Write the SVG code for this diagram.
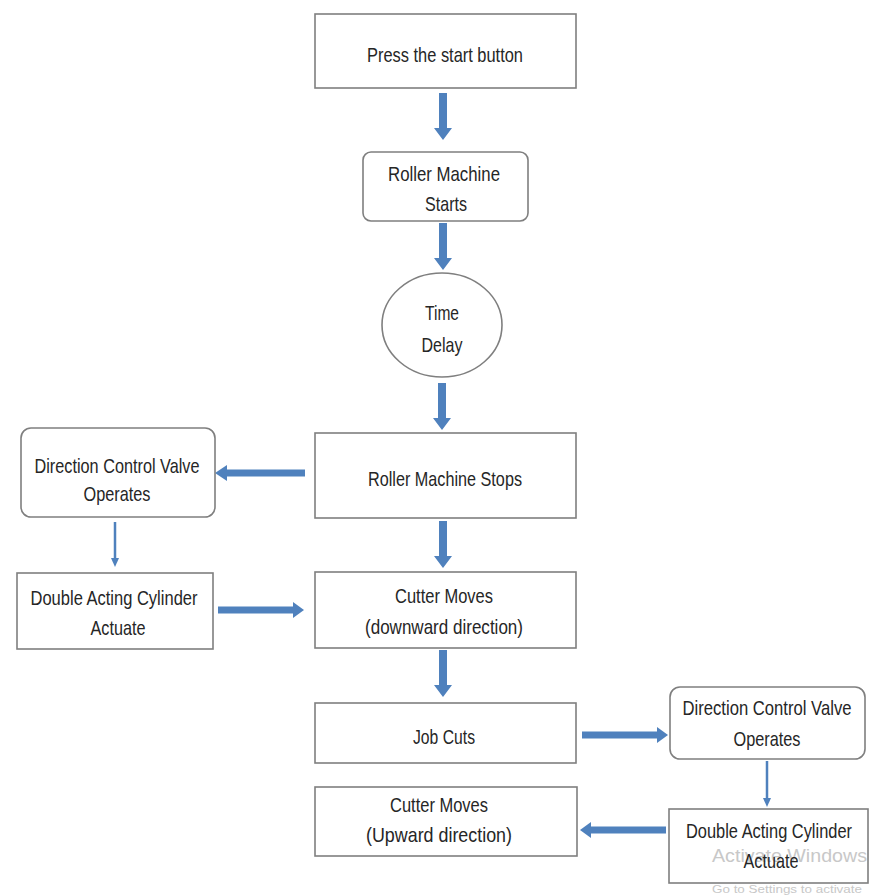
<svg xmlns="http://www.w3.org/2000/svg" width="869" height="896" viewBox="0 0 869 896">
<defs>
<style>
.box{fill:#fff;stroke:#7f7f7f;stroke-width:1.6}
.t{font-family:"Liberation Sans",Arial,sans-serif;font-size:21px;fill:#262626;text-anchor:middle}
.arr{fill:#4f81bd}
.thin{stroke:#4f81bd;stroke-width:2.5;fill:none}
.wm{font-family:"Liberation Sans",Arial,sans-serif;fill:#c8c8c8}
</style>
</defs>
<rect width="869" height="896" fill="#fff"/>
<g id="connectors">
<path class="arr" d="M439,93 H447 V128 H452 L443,140 L434,128 H439 Z"/>
<path class="arr" d="M439,223 H447 V258 H452 L443,270 L434,258 H439 Z"/>
<path class="arr" d="M438,383 H446 V418 H451 L442,430 L433,418 H438 Z"/>
<path class="arr" d="M439,521 H447 V556 H452 L443,568 L434,556 H439 Z"/>
<path class="arr" d="M439,650 H447 V685 H452 L443,697 L434,685 H439 Z"/>
<path class="arr" d="M305,469.5 V476.5 H227 V481 L215,473 L227,465 V469.5 Z"/>
<path class="arr" d="M218,606.5 V613.5 H293 V618 L304,610 L293,602 V606.5 Z"/>
<path class="arr" d="M582,731.5 V738.5 H657 V743 L668,735 L657,727 V731.5 Z"/>
<path class="arr" d="M666,826.5 V833.5 H591 V838 L580,830 L591,822 V826.5 Z"/>
<line class="thin" x1="115" y1="522" x2="115" y2="559"/>
<path class="arr" d="M111,558 H119 L115,567 Z"/>
<line class="thin" x1="767" y1="761" x2="767" y2="799"/>
<path class="arr" d="M763,798 H771 L767,807 Z"/>
</g>
<g id="n1"><rect class="box" x="315" y="14" width="261" height="74"/><text class="t" x="445" y="62" textLength="156" lengthAdjust="spacingAndGlyphs">Press the start button</text></g>
<g id="n2"><rect class="box" x="363" y="152" width="165" height="69" rx="8"/><text class="t" x="444" y="181" textLength="112" lengthAdjust="spacingAndGlyphs">Roller Machine</text><text class="t" x="446" y="211" textLength="42" lengthAdjust="spacingAndGlyphs">Starts</text></g>
<g id="n3"><ellipse class="box" cx="442" cy="325" rx="60" ry="52"/><text class="t" x="442" y="320" textLength="34" lengthAdjust="spacingAndGlyphs">Time</text><text class="t" x="442" y="352" textLength="41" lengthAdjust="spacingAndGlyphs">Delay</text></g>
<g id="n4"><rect class="box" x="315" y="433" width="261" height="85"/><text class="t" x="445" y="486" textLength="154" lengthAdjust="spacingAndGlyphs">Roller Machine Stops</text></g>
<g id="n5"><rect class="box" x="21" y="428" width="194" height="89" rx="10"/><text class="t" x="117" y="473" textLength="165" lengthAdjust="spacingAndGlyphs">Direction Control Valve</text><text class="t" x="117" y="501" textLength="67" lengthAdjust="spacingAndGlyphs">Operates</text></g>
<g id="n6"><rect class="box" x="17" y="573" width="196" height="76"/><text class="t" x="114" y="605" textLength="167" lengthAdjust="spacingAndGlyphs">Double Acting Cylinder</text><text class="t" x="118" y="635" textLength="55" lengthAdjust="spacingAndGlyphs">Actuate</text></g>
<g id="n7"><rect class="box" x="315" y="572" width="261" height="76"/><text class="t" x="444" y="603" textLength="98" lengthAdjust="spacingAndGlyphs">Cutter Moves</text><text class="t" x="444" y="634" textLength="158" lengthAdjust="spacingAndGlyphs">(downward direction)</text></g>
<g id="n8"><rect class="box" x="315" y="703" width="261" height="60"/><text class="t" x="444" y="744" textLength="62" lengthAdjust="spacingAndGlyphs">Job Cuts</text></g>
<g id="n9"><rect class="box" x="315" y="787" width="262" height="69"/><text class="t" x="439" y="812" textLength="98" lengthAdjust="spacingAndGlyphs">Cutter Moves</text><text class="t" x="439" y="842" textLength="146" lengthAdjust="spacingAndGlyphs">(Upward direction)</text></g>
<g id="n10"><rect class="box" x="670" y="687" width="195" height="72" rx="10"/><text class="t" x="767" y="715" textLength="169" lengthAdjust="spacingAndGlyphs">Direction Control Valve</text><text class="t" x="767" y="746" textLength="67" lengthAdjust="spacingAndGlyphs">Operates</text></g>
<g id="watermark"><text class="wm" x="712" y="862" font-size="19" textLength="155" lengthAdjust="spacingAndGlyphs">Activate Windows</text><text class="wm" x="712" y="893" font-size="11" textLength="150" lengthAdjust="spacingAndGlyphs">Go to Settings to activate</text></g>
<g id="n11"><rect fill="none" stroke="#7f7f7f" stroke-width="1.6" x="669" y="809" width="199" height="74"/><text class="t" x="769" y="838" textLength="166" lengthAdjust="spacingAndGlyphs">Double Acting Cylinder</text><text class="t" x="771" y="868" textLength="55" lengthAdjust="spacingAndGlyphs">Actuate</text></g>
</svg>
